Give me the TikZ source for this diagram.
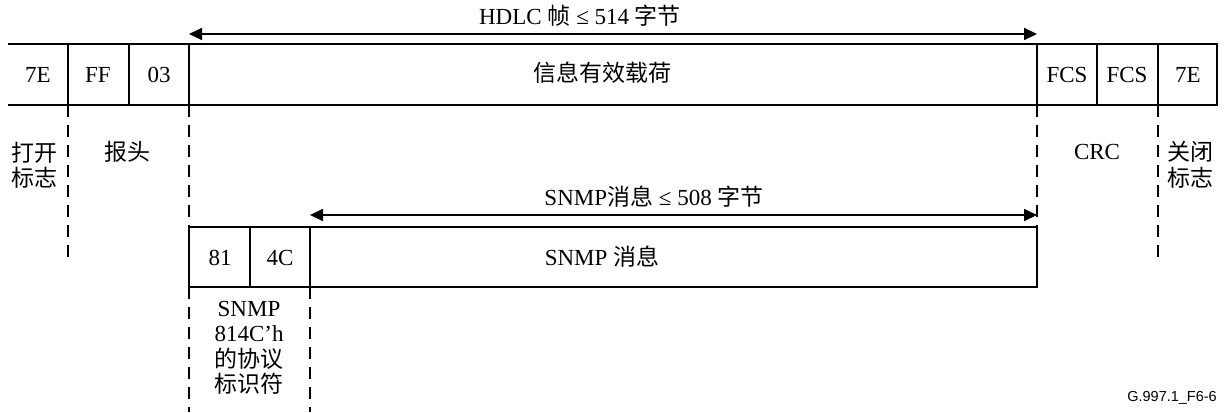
\documentclass[tikz,border=0pt]{standalone}
\usepackage{fontspec}
\setmainfont{Liberation Serif}
\newfontfamily\cjk{Noto Sans CJK SC}
\newfontfamily\ftsans{Liberation Sans}
\usetikzlibrary{arrows.meta}
\begin{document}
\begin{tikzpicture}[x=1pt,y=-1pt,
  frame/.style={line width=2.2pt},
  dsh/.style={line width=2.4pt, dash pattern=on 12pt off 8pt},
  dim/.style={line width=1.8pt, {Triangle[length=13pt,width=12pt]}-{Triangle[length=13pt,width=12pt]}},
  lbl/.style={font=\fontsize{23}{25.5}\selectfont, inner sep=0pt, align=center},
  clbl/.style={font=\fontsize{23}{25.5}\selectfont\cjk, inner sep=0pt, align=center},
  foot/.style={font=\fontsize{14.5}{16}\selectfont\ftsans, inner sep=0pt, anchor=east},
]
\useasboundingbox (0,0) rectangle (1225,412);
% coordinates of the top row
\coordinate (tl) at (8,44);
\coordinate (tr) at (1217,44);
\coordinate (bl) at (8,105);
\coordinate (br) at (1217,105);
% top frame
\draw[frame] (tl) -- (tr) -- (br) -- (bl);
\foreach \x/\n in {68/a,129/b,189/c,1037/d,1097/e,1158/f}{
  \coordinate (t\n) at (\x,44);
  \coordinate (b\n) at (\x,105);
  \draw[frame] (t\n) -- (b\n);
}
% lower box
\coordinate (sl) at (189,227);
\coordinate (sr) at (1037,227);
\coordinate (sbl) at (189,287);
\coordinate (sbr) at (1037,287);
\draw[frame] (sl) -- (sr) -- (sbr) -- (sbl) -- cycle;
\foreach \x/\n in {250/g,310/h}{
  \coordinate (u\n) at (\x,227);
  \coordinate (v\n) at (\x,287);
  \draw[frame] (u\n) -- (v\n);
}
% dashed lines
\coordinate (da) at (68,258);
\coordinate (df) at (1158,258);
\coordinate (dc) at (189,412);
\coordinate (dh) at (310,412);
\draw[dsh] (ba) -- (da);
\draw[dsh] (bf) -- (df);
\draw[dsh] (bc) -- (sl);
\draw[dsh] (bd) -- (sr);
\draw[dsh] (sbl) -- (dc);
\draw[dsh] (vh) -- (dh);
% dimension arrows
\coordinate (h1) at (189,34);
\coordinate (h2) at (1037,34);
\coordinate (s1) at (310,215);
\coordinate (s2) at (1037,215);
\draw[dim] (h1) -- (h2);
\draw[dim] (s1) -- (s2);
% labels
\node[lbl] (hdlc) at (580,16) {HDLC {\cjk 帧} ≤ 514 {\cjk 字节}};
\node[lbl] (snmpl) at (654,197) {SNMP{\cjk 消息} ≤ 508 {\cjk 字节}};
\node[lbl] (c1) at (38,75) {7E};
\node[lbl] (c2) at (98,75) {FF};
\node[lbl] (c3) at (159,75) {03};
\node[clbl] (c4) at (602,73) {信息有效载荷};
\node[lbl] (c5) at (1067,75) {FCS};
\node[lbl] (c6) at (1127,75) {FCS};
\node[lbl] (c7) at (1188,75) {7E};
\node[lbl] (d1) at (220,258) {81};
\node[lbl] (d2) at (280,258) {4C};
\node[lbl] (d3) at (602,257) {SNMP {\cjk 消息}};
\node[clbl] (open) at (35,165) {打开\\标志};
\node[clbl] (head) at (127,152) {报头};
\node[lbl] (crc) at (1097,152) {CRC};
\node[clbl] (close) at (1190,165) {关闭\\标志};
\node[lbl] (pid) at (249,348) {SNMP\\814C'h\\{\cjk 的协议}\\{\cjk 标识符}};
\node[foot] (fig) at (1217,398) {G.997.1\_F6-6};
\end{tikzpicture}
\end{document}
